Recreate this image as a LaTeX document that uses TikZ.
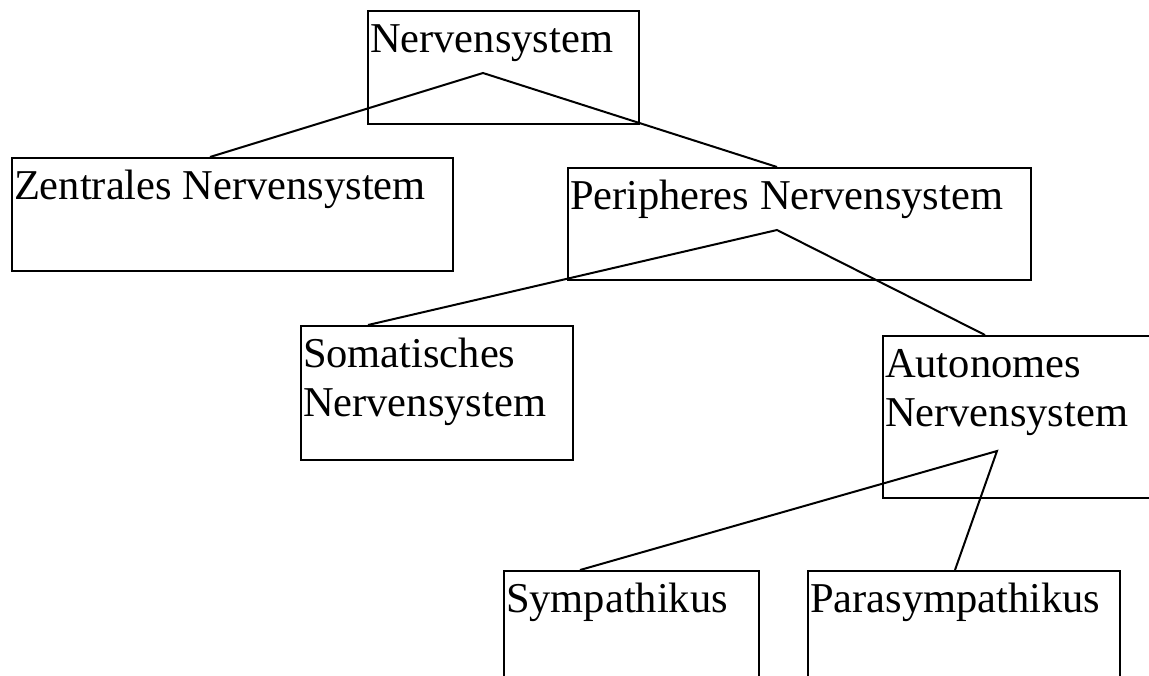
\documentclass[tikz,border=0pt]{standalone}
\usepackage{fontspec}
\setmainfont{Liberation Serif}
\usetikzlibrary{calc}

\tikzset{
    box/.style={draw, line width=2pt, anchor=north west, inner xsep=2pt, inner ysep=0pt,
        font=\fontsize{42.5}{49}\selectfont},
    link/.style={line width=2pt}
}

\begin{document}
\begin{tikzpicture}[x=1pt, y=-1pt]
    \useasboundingbox (0,0) rectangle (1149,675);
    \clip (0,0) rectangle (1149,675);

    % boxes
    \node[box] (ns) at (367,10)
        {\parbox[c][113pt][t]{267pt}{\raggedright\rule{0pt}{41pt}Nervensystem}};
    \node[box] (zns) at (11,157)
        {\parbox[c][113pt][t]{437pt}{\raggedright\rule{0pt}{41pt}Zentrales Nervensystem}};
    \node[box] (pns) at (567,167)
        {\parbox[c][112pt][t]{459pt}{\raggedright\rule{0pt}{41pt}Peripheres Nervensystem}};
    \node[box] (sns) at (300,325)
        {\parbox[c][134pt][t]{268pt}{\raggedright\rule{0pt}{41pt}Somatisches\\Nervensystem}};
    \node[box] (ans) at (882,335)
        {\parbox[c][162pt][t]{279pt}{\raggedright\rule{0pt}{41pt}Autonomes\\Nervensystem}};
    \node[box] (sym) at (503,570)
        {\parbox[c][120pt][t]{251pt}{\raggedright\rule{0pt}{41pt}Sympathikus}};
    \node[box] (psym) at (807,570)
        {\parbox[c][120pt][t]{308pt}{\raggedright\rule{0pt}{41pt}Parasympathikus}};

    % forks
    \coordinate (ns-fork) at (483,73);
    \coordinate (pns-fork) at (777,230);
    \coordinate (ans-fork) at (997,451);

    % lines
    \draw[link] ($(zns.north west)+(199,0)$) -- (ns-fork) -- ($(pns.north west)+(210,0)$);
    \draw[link] ($(sns.north west)+(68,0)$) -- (pns-fork) -- ($(ans.north west)+(103,0)$);
    \draw[link] ($(sym.north west)+(77,0)$) -- (ans-fork) -- ($(psym.north west)+(148,0)$);
\end{tikzpicture}
\end{document}
